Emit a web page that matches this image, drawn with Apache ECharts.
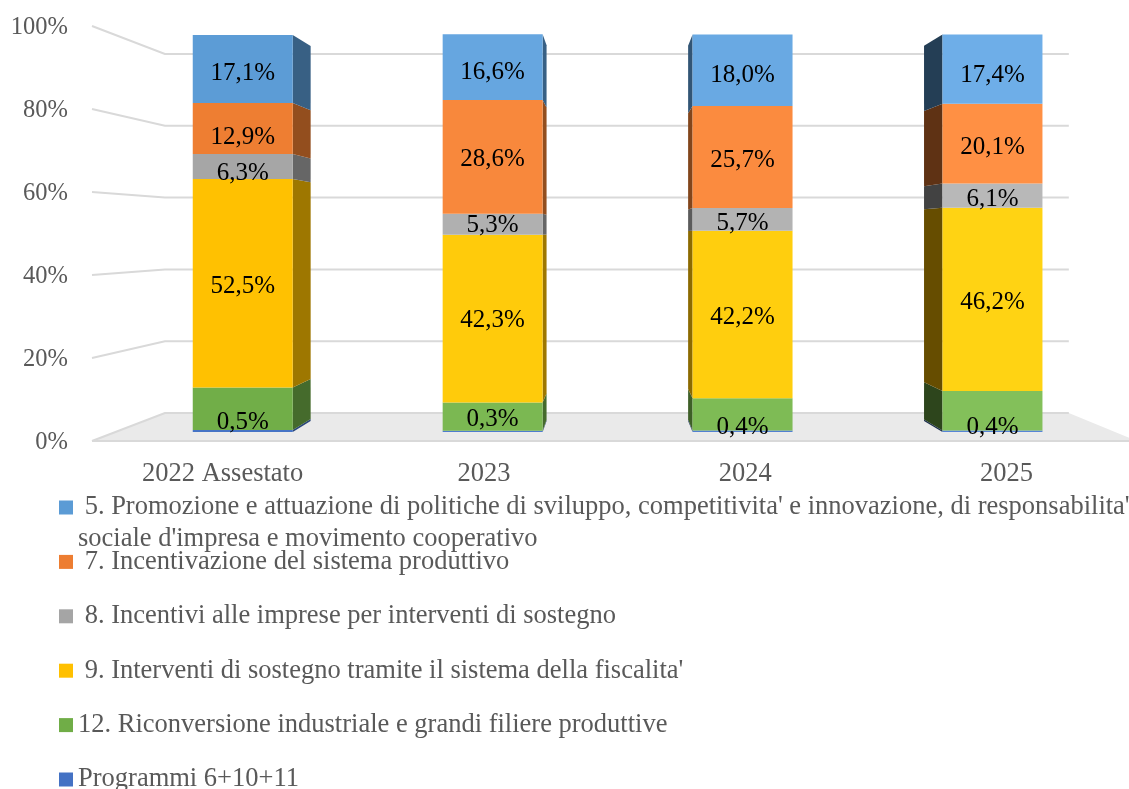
<!DOCTYPE html>
<html>
<head>
<meta charset="utf-8">
<style>html,body{margin:0;padding:0;background:#fff}#c{width:1129px;height:789px}</style>
<script src="https://cdn.jsdelivr.net/npm/echarts@6/dist/echarts.min.js"></script>
</head>
<body>
<div id="c"></div>
<script>
// ---- data ----
const categories = ['2022 Assestato', '2023', '2024', '2025'];
const yTicks = [0, 20, 40, 60, 80, 100];
const seriesNames = [
  " 5. Promozione e attuazione di politiche di sviluppo, competitivita' e innovazione, di responsabilita'\nsociale d'impresa e movimento cooperativo",
  " 7. Incentivazione del sistema produttivo",
  " 8. Incentivi alle imprese per interventi di sostegno",
  " 9. Interventi di sostegno tramite il sistema della fiscalita'",
  "12. Riconversione industriale e grandi filiere produttive",
  "Programmi 6+10+11"
];
const promozione = [17.1, 16.6, 18.0, 17.4];
const incentivazione = [12.9, 28.6, 25.7, 20.1];
const incentivi = [6.3, 5.3, 5.7, 6.1];
const fiscalita = [52.5, 42.3, 42.2, 46.2];
const riconversione = [10.7, 7.1, 8.1, 9.9];
const programmi = [0.5, 0.3, 0.4, 0.4];

// ---- style ----
const baseColors = ['#5B9BD5', '#ED7D31', '#A5A5A5', '#FFC000', '#70AD47', '#4472C4'];
const frontLift = [1, 11, 14, 19];
const sideShade = [0.62, 0.62, 0.55, 0.40];
const labelNudge = [
  [4, 5, 5, 6],
  [9, 3, 3, 4],
  [7, 1, 4, 4],
  [3, 2, 3, 3],
  [0, 0, 0, 0],
  [-9, -12, -4, -4]
];
const showLabel = [true, true, true, true, false, true];
const SERIF = '"Liberation Serif","Times New Roman",serif';
const WALL = { vx: 632, s: 0.865 };
const BAR = { vxFront: 686, sFront: 0.9566, vxBack: 613, sBack: 0.944, widthRatio: 0.4 };

function channels(hex) {
  const n = parseInt(hex.slice(1), 16);
  return [n >> 16, (n >> 8) & 255, n & 255];
}
function shade(hex, f) {
  return 'rgb(' + channels(hex).map(v => Math.round(v * f)).join(',') + ')';
}
function lift(hex, d) {
  return 'rgb(' + channels(hex).map(v => Math.min(255, v + d)).join(',') + ')';
}
function project(p, vx, vy, s) {
  return [vx + (p[0] - vx) * s, vy + (p[1] - vy) * s];
}
function fmt(v) { return v.toFixed(1).replace('.', ',') + '%'; }

const stacks = [programmi, riconversione, fiscalita, incentivi, incentivazione, promozione];
const stackNames = seriesNames.slice().reverse();
const running = categories.map(() => 0);
const barSeries = stacks.map((values, k) => {
  const idx = stacks.length - 1 - k;
  const data = values.map((v, i) => {
    const row = [i, running[i], running[i] + v, v];
    running[i] += v;
    return row;
  });
  return {
    type: 'custom',
    name: stackNames[k],
    z: 3,
    itemStyle: { color: baseColors[idx] },
    encode: { x: 0, y: 2 },
    data: data,
    renderItem: function (params, api) {
      const i = api.value(0);
      const cs = params.coordSys;
      const vy = cs.y + cs.height / 2;
      const half = api.size([1, 0])[0] * BAR.widthRatio / 2;
      const a = api.coord([i, api.value(1)]);
      const b = api.coord([i, api.value(2)]);
      const f = p => project(p, BAR.vxFront, vy, BAR.sFront);
      const bl = f([a[0] - half, a[1]]), br = f([a[0] + half, a[1]]);
      const tl = f([a[0] - half, b[1]]), tr = f([a[0] + half, b[1]]);
      const back = p => project(p, BAR.vxBack, vy, BAR.sBack);
      const rightSide = (bl[0] + br[0]) / 2 < BAR.vxBack;
      const e1 = rightSide ? br : bl, e2 = rightSide ? tr : tl;
      const children = [
        { type: 'polygon', z2: 1, shape: { points: [e1, e2, back(e2), back(e1)] },
          style: { fill: shade(baseColors[idx], sideShade[i]) } },
        { type: 'polygon', z2: 2, shape: { points: [bl, br, tr, tl] },
          style: { fill: lift(baseColors[idx], frontLift[i]) } }
      ];
      if (showLabel[idx]) {
        children.push({
          type: 'text', z2: 100,
          style: {
            x: (bl[0] + br[0]) / 2, y: (bl[1] + tl[1]) / 2 + labelNudge[idx][i],
            text: fmt(api.value(3)), fill: '#000', font: '25px ' + SERIF,
            align: 'center', verticalAlign: 'middle'
          }
        });
      }
      return { type: 'group', children: children };
    }
  };
});

const wallSeries = {
  type: 'custom',
  name: 'wall',
  z: 1,
  silent: true,
  encode: { y: 1 },
  data: yTicks.map(t => [0, t]),
  renderItem: function (params, api) {
    const cs = params.coordSys;
    const vy = cs.y + cs.height / 2;
    const y = api.coord([0, api.value(1)])[1];
    const L = [cs.x, y], R = [cs.x + cs.width, y];
    const bL = project(L, WALL.vx, vy, WALL.s), bR = project(R, WALL.vx, vy, WALL.s);
    const line = { stroke: '#D9D9D9', lineWidth: 2, fill: null };
    const children = [];
    if (api.value(1) === 0) {
      children.push({ type: 'polygon', z2: 0, shape: { points: [L, R, bR, bL] }, style: { fill: '#EAEAEA' } });
      children.push({ type: 'line', z2: 1, shape: { x1: L[0], y1: L[1], x2: R[0], y2: R[1] }, style: line });
    }
    children.push({ type: 'polyline', z2: 1, shape: { points: [L, bL, bR] }, style: line });
    return { type: 'group', children: children };
  }
};

const chart = echarts.init(document.getElementById('c'), null, { renderer: 'canvas' });
chart.setOption({
  animation: false,
  backgroundColor: '#fff',
  grid: { left: 92, top: 26, right: -8, bottom: 348, containLabel: false, outerBoundsMode: 'none' },
  xAxis: {
    type: 'category', data: categories,
    axisLine: { show: false }, axisTick: { show: false }, splitLine: { show: false },
    axisLabel: { fontFamily: SERIF, fontSize: 26.5, color: '#595959', margin: 20, interval: 0 }
  },
  yAxis: {
    type: 'value', min: 0, max: 100, interval: 20,
    axisLine: { show: false }, axisTick: { show: false }, splitLine: { show: false },
    axisLabel: {
      margin: 24,
      formatter: v => '{a|' + v + '%}',
      rich: { a: { fontFamily: SERIF, fontSize: 24.5, color: '#595959', padding: [4, 0, 0, 0] } }
    }
  },
  legend: {
    orient: 'vertical', left: 59, top: 494, height: 400, itemWidth: 14, itemHeight: 14, itemGap: 27.4,
    icon: 'rect', selectedMode: false, align: 'left',
    data: seriesNames,
    formatter: n => n.split('\n')[0],
    textStyle: { fontFamily: SERIF, fontSize: 26.5, color: '#595959', padding: 0 },
    padding: 0
  },
  graphic: [{
    type: 'text', left: 78, top: 526,
    style: { text: seriesNames[0].split('\n')[1], fill: '#595959', font: '26.5px ' + SERIF }
  }],
  series: [wallSeries].concat(barSeries)
});
</script>
</body>
</html>
